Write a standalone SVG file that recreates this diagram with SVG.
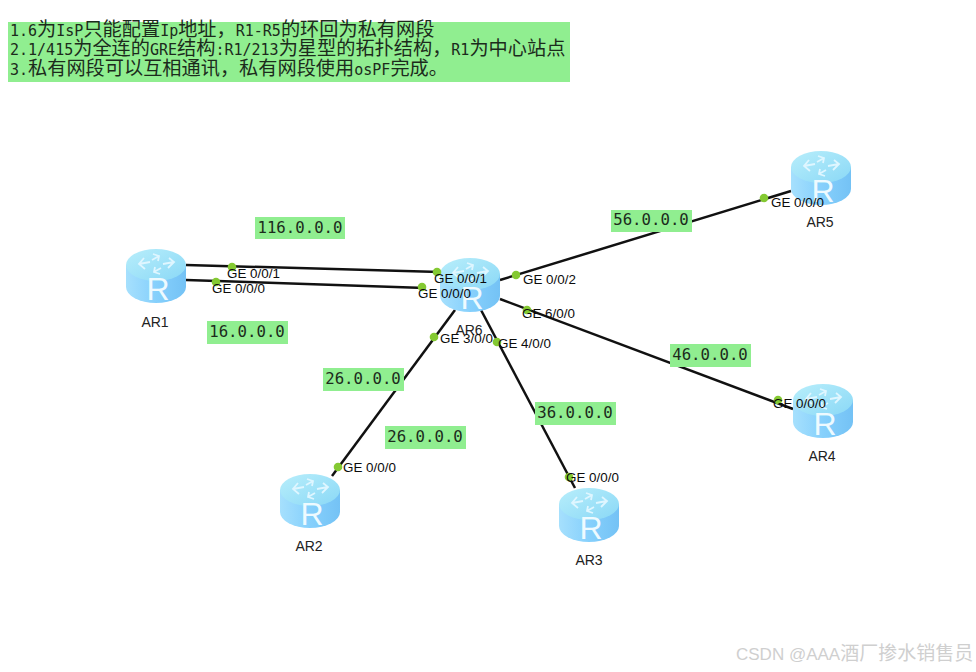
<svg xmlns="http://www.w3.org/2000/svg" width="976" height="672" viewBox="0 0 976 672">
<style>
.line{stroke:#111;stroke-width:2.5;fill:none}
.dot{fill:#84c932}
.ge{font:13.4px "Liberation Sans",Arial,sans-serif;fill:#0c0c0c}
.name{font:14px "Liberation Sans",Arial,sans-serif;fill:#222}
.box{fill:#90ee90}
.ip{font:15.7px "DejaVu Sans Mono",monospace;fill:#1c2b1c}
.note{font:15px "DejaVu Sans Mono","Noto Sans CJK SC",monospace;fill:#1c2b1c}
.cjk{font:19.2px "Noto Sans CJK SC",sans-serif}
.wm{font:17px "Liberation Sans","Noto Sans CJK SC",sans-serif;fill:#cfcfcf}
.wmc{font:19px "Noto Sans CJK SC",sans-serif}
</style>
<defs>
<linearGradient id="side" x1="0" x2="1" y1="0" y2="0">
<stop offset="0" stop-color="#a6e0fd"/><stop offset="0.5" stop-color="#86d0fc"/><stop offset="1" stop-color="#74c2f5"/>
</linearGradient>
<linearGradient id="top" x1="0" x2="1" y1="0" y2="1">
<stop offset="0" stop-color="#b8eefb"/><stop offset="1" stop-color="#8ad8f6"/>
</linearGradient>
<symbol id="router" viewBox="0 0 60 54" width="60" height="54" overflow="visible">
<path d="M0 16V38A30 16 0 0 0 60 38V16Z" fill="url(#side)"/>
<ellipse cx="30" cy="16" rx="30" ry="16" fill="url(#top)"/>
<g fill="none" stroke="#dff6ff" stroke-width="1.8">
<path d="M13 15L24 13M18 9L13 15L19 20"/>
<path d="M48 13L37 15M43 9L48 13L42 19"/>
<path d="M33 7L26 11M27 5L33 7L32 12"/>
<path d="M28 23L35 19M34 25L28 23L29 18"/>
</g>
<text x="32" y="51" text-anchor="middle" style="font:32px 'Liberation Sans',Arial,sans-serif;fill:#eefaff">R</text>
</symbol>
</defs>
<rect width="976" height="672" fill="#fff"/>

<g id="note">
<rect class="box" x="8" y="22" width="562" height="60"/>
<text class="note" x="10" y="36">1.6<tspan class="cjk">为</tspan>IsP<tspan class="cjk">只能配置</tspan>Ip<tspan class="cjk">地址，</tspan>R1-R5<tspan class="cjk">的环回为私有网段</tspan></text>
<text class="note" x="10" y="55">2.1/415<tspan class="cjk">为全连的</tspan>GRE<tspan class="cjk">结构</tspan>:R1/213<tspan class="cjk">为星型的拓扑结构，</tspan>R1<tspan class="cjk">为中心站点</tspan></text>
<text class="note" x="10" y="75">3.<tspan class="cjk">私有网段可以互相通讯，私有网段使用</tspan>osPF<tspan class="cjk">完成。</tspan></text>
</g>

<g id="connectors">
<path class="line" d="M186 265L440 272"/>
<path class="line" d="M186 280L425 288"/>
<path class="line" d="M500 280L791 191"/>
<path class="line" d="M500 299L793 409"/>
<path class="line" d="M455 310L332 476"/>
<path class="line" d="M481 310L575 488"/>
</g>

<g id="AR1"><use href="#router" x="126" y="249"/><text class="name" x="155" y="327" text-anchor="middle">AR1</text></g>
<g id="AR6"><use href="#router" x="440" y="258"/><text class="name" x="469" y="335" text-anchor="middle">AR6</text></g>
<g id="AR5"><use href="#router" x="791" y="151"/><text class="name" x="820" y="227" text-anchor="middle">AR5</text></g>
<g id="AR4"><use href="#router" x="793" y="384"/><text class="name" x="822" y="461" text-anchor="middle">AR4</text></g>
<g id="AR2"><use href="#router" x="280" y="474"/><text class="name" x="309" y="551" text-anchor="middle">AR2</text></g>
<g id="AR3"><use href="#router" x="559" y="488"/><text class="name" x="589" y="565" text-anchor="middle">AR3</text></g>

<g id="ports">
<circle class="dot" cx="232" cy="267" r="4.3"/><text class="ge" x="227" y="278">GE 0/0/1</text>
<circle class="dot" cx="216" cy="282" r="4.3"/><text class="ge" x="212" y="293">GE 0/0/0</text>
<circle class="dot" cx="437" cy="272" r="4.3"/><text class="ge" x="434" y="283">GE 0/0/1</text>
<circle class="dot" cx="422" cy="287" r="4.3"/><text class="ge" x="418" y="298">GE 0/0/0</text>
<circle class="dot" cx="516" cy="275" r="4.3"/><text class="ge" x="523" y="284">GE 0/0/2</text>
<circle class="dot" cx="527" cy="310" r="4.3"/><text class="ge" x="522" y="318">GE 6/0/0</text>
<circle class="dot" cx="434" cy="337" r="4.3"/><text class="ge" x="440" y="343">GE 3/0/0</text>
<circle class="dot" cx="497" cy="342" r="4.3"/><text class="ge" x="498" y="348">GE 4/0/0</text>
<circle class="dot" cx="764" cy="198" r="4.3"/><text class="ge" x="771" y="207">GE 0/0/0</text>
<circle class="dot" cx="778" cy="400" r="4.3"/><text class="ge" x="773" y="408">GE 0/0/0</text>
<circle class="dot" cx="338" cy="467" r="4.3"/><text class="ge" x="343" y="472">GE 0/0/0</text>
<circle class="dot" cx="569" cy="477" r="4.3"/><text class="ge" x="566" y="482">GE 0/0/0</text>
</g>

<g id="net116"><rect class="box" x="255" y="217" width="90" height="22"/><text class="ip" x="300" y="233" text-anchor="middle">116.0.0.0</text></g>
<g id="net16"><rect class="box" x="207" y="321" width="81" height="23"/><text class="ip" x="247" y="337" text-anchor="middle">16.0.0.0</text></g>
<g id="net56"><rect class="box" x="611" y="210" width="81" height="22"/><text class="ip" x="651" y="225" text-anchor="middle">56.0.0.0</text></g>
<g id="net46"><rect class="box" x="670" y="344" width="81" height="23"/><text class="ip" x="710" y="360" text-anchor="middle">46.0.0.0</text></g>
<g id="net26a"><rect class="box" x="323" y="368" width="81" height="23"/><text class="ip" x="363" y="384" text-anchor="middle">26.0.0.0</text></g>
<g id="net26b"><rect class="box" x="385" y="426" width="81" height="23"/><text class="ip" x="425" y="442" text-anchor="middle">26.0.0.0</text></g>
<g id="net36"><rect class="box" x="535" y="402" width="81" height="23"/><text class="ip" x="575" y="418" text-anchor="middle">36.0.0.0</text></g>

<text class="wm" x="736" y="660">CSDN @AAA<tspan class="wmc">酒厂掺水销售员</tspan></text>
</svg>
